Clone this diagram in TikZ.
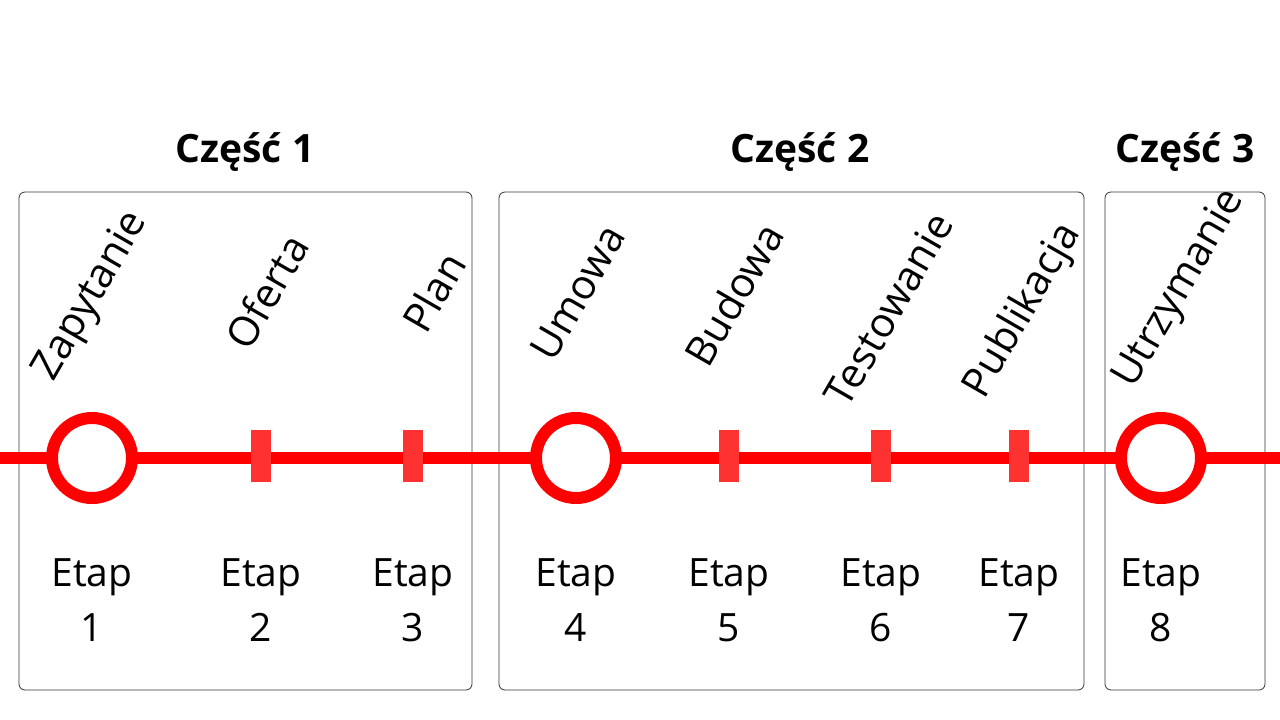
\documentclass[tikz,border=0pt]{standalone}
\usepackage{fontspec}
\setmainfont{Open Sans}
\begin{document}
\begin{tikzpicture}[x=1pt,y=-1pt,
  grp/.style={draw=black!80,line width=0.8pt,rounded corners=6pt},
  ttl/.style={font=\fontsize{39}{44}\selectfont\bfseries},
  lbl/.style={font=\fontsize{41}{46}\selectfont,rotate=60,anchor=west,inner sep=0pt},
  etp/.style={font=\fontsize{39}{55}\selectfont,align=center},
  ring/.style={circle,draw=red,line width=12pt,fill=white,minimum size=80pt,inner sep=0pt},
  tick/.style={fill={rgb,255:red,255;green,50;blue,50},minimum width=20pt,minimum height=52pt,inner sep=0pt}]
\useasboundingbox (0,0) rectangle (1280,720);
\draw[grp] (19,192) rectangle (472,690);
\draw[grp] (499,192) rectangle (1084,690);
\draw[grp] (1105,192) rectangle (1265,690);
\node[ttl] (t1) at (245,152) {Część 1};
\node[ttl] (t2) at (800,152) {Część 2};
\node[ttl] (t3) at (1185,152) {Część 3};
\coordinate (L) at (0,458);
\coordinate (R) at (1280,458);
\draw[red,line width=12pt] (L) -- (R);
\node[ring] (s1) at (92,458) {};
\node[tick] (s2) at (261,456) {};
\node[tick] (s3) at (413,456) {};
\node[ring] (s4) at (576,458) {};
\node[tick] (s5) at (729,456) {};
\node[tick] (s6) at (881,456) {};
\node[tick] (s7) at (1019,456) {};
\node[ring] (s8) at (1161,458) {};
\node[lbl] (l1) at (45,378) {Zapytanie};
\node[lbl] (l2) at (236,345) {Oferta};
\node[lbl] (l3) at (413,328) {Plan};
\node[lbl] (l4) at (541,356) {Umowa};
\node[lbl] (l5) at (695,362) {Budowa};
\node[lbl] (l6) at (835,402) {Testowanie};
\node[lbl] (l7) at (975,395) {Publikacja};
\node[lbl] (l8) at (1125,385) {Utrzymanie};
\foreach \x/\n in {92/1,261/2,413/3,576/4,729/5,881/6,1019/7,1161/8}
  \node[etp] (e\n) at (\x,600) {Etap\\\n};
\end{tikzpicture}
\end{document}
